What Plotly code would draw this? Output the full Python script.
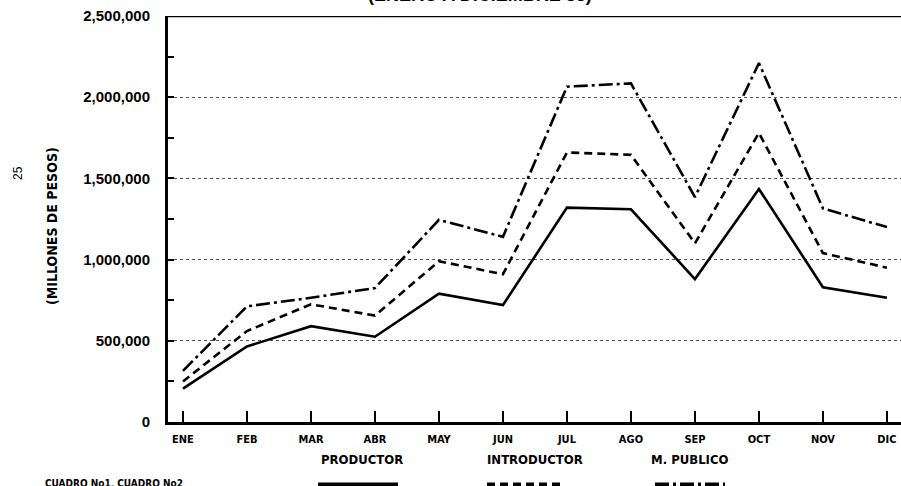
import plotly.graph_objects as go

months = ["ENE", "FEB", "MAR", "ABR", "MAY", "JUN", "JUL", "AGO", "SEP", "OCT", "NOV", "DIC"]
productor = [205000, 465000, 590000, 525000, 790000, 720000, 1320000, 1310000, 880000, 1435000, 830000, 765000]
introductor = [250000, 560000, 725000, 655000, 990000, 910000, 1660000, 1645000, 1100000, 1780000, 1040000, 950000]
m_publico = [315000, 712000, 765000, 825000, 1245000, 1140000, 2065000, 2085000, 1385000, 2210000, 1315000, 1200000]
y_ticks = [0, 500000, 1000000, 1500000, 2000000, 2500000]
y_labels = ["0", "500,000", "1,000,000", "1,500,000", "2,000,000", "2,500,000"]

series_names = ["PRODUCTOR", "INTRODUCTOR", "M. PUBLICO"]
series_vals = [productor, introductor, m_publico]
dashes = ["solid", "8px,5px", "14px,4px,3px,4px"]

FONT = "DejaVu Sans Condensed, Liberation Sans Narrow, Arial Narrow, Liberation Sans, Arial, sans-serif"
FONT2 = "Liberation Sans, Arial, sans-serif"

x_idx = list(range(len(months)))

fig = go.Figure()
for name, vals, d in zip(series_names, series_vals, dashes):
    fig.add_trace(go.Scatter(x=x_idx, y=vals, mode="lines", name=name,
                             line=dict(color="black", width=2.6, dash=d),
                             showlegend=False))

W, H = 901, 486
L, R, T, B = 168, 0, 16, 64

fig.update_layout(
    width=W, height=H,
    margin=dict(l=L, r=R, t=T, b=B, pad=0, autoexpand=False),
    paper_bgcolor="white", plot_bgcolor="white",
    showlegend=False,
)
fig.update_xaxes(
    automargin=False,
    range=[-0.234, 11.22],
    tickmode="array", tickvals=x_idx, ticktext=months,
    ticks="inside", ticklen=11, tickwidth=1.5, tickcolor="black",
    showline=True, linecolor="black", linewidth=2.5,
    showgrid=False, zeroline=False,
    tickfont=dict(family=FONT, size=11, color="black", weight="bold"),
    ticklabelstandoff=5,
)
fig.update_yaxes(
    automargin=False,
    range=[0, 2500000],
    tickmode="array", tickvals=y_ticks, ticktext=y_labels,
    ticks="inside", ticklen=6, tickwidth=1.5, tickcolor="black",
    minor=dict(dtick=250000, tick0=0, ticks="inside", ticklen=6, tickwidth=1.5, tickcolor="black", showgrid=False),
    showline=True, linecolor="black", linewidth=3,
    showgrid=True, gridcolor="#555555", griddash="dot", gridwidth=1,
    zeroline=False,
    tickfont=dict(family=FONT2, size=15, color="black", weight="bold"),
    ticklabelstandoff=12,
)

# top frame line
fig.add_shape(type="line", xref="paper", yref="y", x0=0, x1=1, y0=2500000, y1=2500000,
              line=dict(color="black", width=2.5))

ph = H - T - B
pw = W - L - R

def px_x(x):
    return (x - L) / pw

def px_y(y):
    return 1 - (y - T) / ph

# legend texts and samples
leg_x = [362, 535, 690]
leg_x0 = [318, 487, 655]
leg_x1 = [398, 563, 725]
for name, cx, x0, x1, d in zip(series_names, leg_x, leg_x0, leg_x1, dashes):
    fig.add_annotation(text=name, xref="paper", yref="paper", x=px_x(cx), y=px_y(459),
                       xanchor="center", yanchor="middle", showarrow=False,
                       font=dict(family=FONT, size=13, color="black", weight="bold"))
    fig.add_shape(type="line", xref="paper", yref="paper", x0=px_x(x0), x1=px_x(x1),
                  y0=px_y(485), y1=px_y(485), line=dict(color="black", width=5, dash=d))

# title (cut off at top)
fig.add_annotation(text="(ENERO A DICIEMBRE 88)", xref="paper", yref="paper",
                   x=px_x(480), y=px_y(7), xanchor="center", yanchor="bottom", showarrow=False,
                   font=dict(family=FONT2, size=18, color="black", weight="bold"))

# y axis title
fig.add_annotation(text="(MILLONES DE PESOS)", xref="paper", yref="paper",
                   x=px_x(52), y=px_y(226), xanchor="center", yanchor="middle", showarrow=False,
                   textangle=-90,
                   font=dict(family=FONT, size=14, color="black", weight="bold"))

# page number
fig.add_annotation(text="25", xref="paper", yref="paper",
                   x=px_x(18), y=px_y(173), xanchor="center", yanchor="middle", showarrow=False,
                   textangle=-90,
                   font=dict(family=FONT2, size=12, color="black"))

# footnote
fig.add_annotation(text="CUADRO No1, CUADRO No2", xref="paper", yref="paper",
                   x=px_x(43), y=px_y(484), xanchor="left", yanchor="middle", showarrow=False,
                   font=dict(family=FONT, size=10, color="black", weight="bold"))

fig.write_html(
    "out.html",
    config={"displayModeBar": False},
    post_script="document.body.style.margin='0';document.body.style.padding='0';document.body.style.overflow='hidden';",
)
